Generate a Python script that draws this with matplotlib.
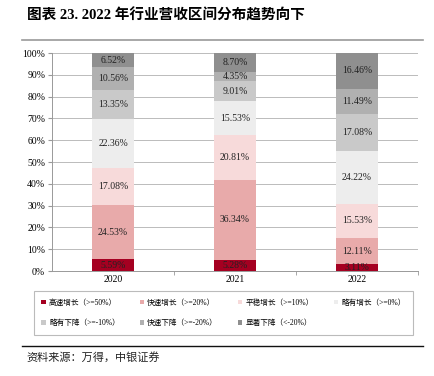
import matplotlib
matplotlib.use("Agg")
import matplotlib.pyplot as plt
import numpy as np
from matplotlib.lines import Line2D

plt.rcParams['font.family'] = ['Liberation Serif', 'Noto Sans CJK SC']

years = ["2020", "2021", "2022"]
series_names = ["高速增长（>=50%）", "快速增长（>=20%）", "平稳增长（>=10%）", "略有增长（>=0%）",
                "略有下降（>=-10%）", "快速下降（>=-20%）", "显著下降（<-20%）"]
gaosu = [5.59, 5.28, 3.11]
kuaisu = [24.53, 36.34, 12.11]
pingwen = [17.08, 20.81, 15.53]
lueyou_zeng = [22.36, 15.53, 24.22]
lueyou_xia = [13.35, 9.01, 17.08]
kuaisu_xia = [10.56, 4.35, 11.49]
xianzhu_xia = [6.52, 8.70, 16.46]
series = [gaosu, kuaisu, pingwen, lueyou_zeng, lueyou_xia, kuaisu_xia, xianzhu_xia]
colors = ["#A50021", "#E8AAAA", "#F7DADA", "#EDEDED", "#C9C9C9", "#B0B0B0", "#8F8F8F"]
yticks = [0, 10, 20, 30, 40, 50, 60, 70, 80, 90, 100]

fig = plt.figure(figsize=(4.34, 3.76), dpi=100)
ax = fig.add_axes([0.12, 0.279, 0.843, 0.580])

x = np.arange(len(years))
bottom = np.zeros(len(years))
for name, vals, c in zip(series_names, series, colors):
    v = np.array(vals)
    ax.bar(x, v, bottom=bottom, width=0.35, color=c, label=name, zorder=3)
    for xi, b, h in zip(x, bottom, v):
        ax.text(xi, b + h / 2, f"{h:.2f}%", ha='center', va='center', fontsize=7,
                color='#222222', zorder=4)
    bottom += v

ax.set_xlim(-0.5, 2.5)
ax.set_ylim(0, 100)
ax.set_yticks(yticks)
ax.set_yticklabels([f"{t}%" for t in yticks], fontsize=7)
ax.set_xticks(x)
ax.set_xticklabels(years, fontsize=7)
ax.tick_params(axis='x', length=0, pad=3)
ax.tick_params(axis='y', length=3, color='#999999', pad=2)
ax.set_xticks([0.5, 1.5, 2.5], minor=True)
ax.tick_params(axis='x', which='minor', length=3, color='#999999')
ax.grid(axis='y', color='#BBBBBB', linewidth=0.7, zorder=0)
for s in ['top', 'right']:
    ax.spines[s].set_visible(False)
for s in ['left', 'bottom']:
    ax.spines[s].set_color('#999999')
    ax.spines[s].set_linewidth(0.7)

handles, labels = ax.get_legend_handles_labels()
order = [0, 4, 1, 5, 2, 6, 3]
leg = fig.legend([handles[i] for i in order], [labels[i] for i in order], ncol=4,
                 loc='center', bbox_to_anchor=(0.515, 0.168),
                 fontsize=5.5, frameon=True, fancybox=False, edgecolor='#AAAAAA',
                 handlelength=0.6, handleheight=0.6, handletextpad=0.4,
                 columnspacing=2.6, borderpad=1.0, labelspacing=1.6)
leg.get_frame().set_linewidth(0.8)

fig.text(0.062, 0.958, "图表 23. 2022 年行业营收区间分布趋势向下", fontsize=10.5,
         fontweight='bold', ha='left', va='center')
fig.add_artist(Line2D([0.05, 0.975], [0.893, 0.893], color='#999999', linewidth=1.2))
fig.add_artist(Line2D([0.05, 0.975], [0.080, 0.080], color='#111111', linewidth=1.0))
fig.text(0.062, 0.050, "资料来源：万得，中银证券", fontsize=8, style='italic',
         ha='left', va='center', color='#222222')

fig.savefig("out.png", dpi=100)
